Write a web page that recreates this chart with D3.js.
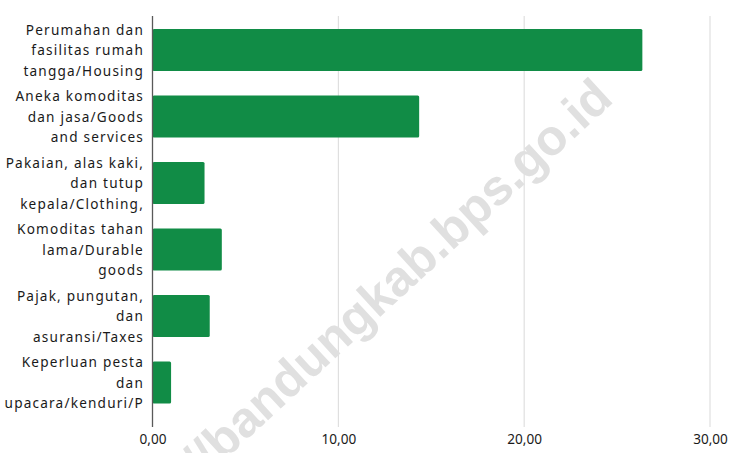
<!DOCTYPE html>
<html><head><meta charset="utf-8">
<script src="https://cdn.jsdelivr.net/npm/d3@7"></script>
<style>body{margin:0;background:#fff}</style>
</head><body>
<svg id="c" width="731" height="453"></svg>
<script>
const categories = [
  ["Perumahan dan","fasilitas rumah","tangga/Housing"],
  ["Aneka komoditas","dan jasa/Goods","and services"],
  ["Pakaian, alas kaki,","dan tutup","kepala/Clothing,"],
  ["Komoditas tahan","lama/Durable","goods"],
  ["Pajak, pungutan,","dan","asuransi/Taxes"],
  ["Keperluan pesta","dan","upacara/kenduri/P"]
];
const values = [26.36, 14.35, 2.8, 3.73, 3.08, 1.0];
const tickValues = [0, 10, 20, 30];
const watermark = "//bandungkab.bps.go.id";

const svg = d3.select("#c");
const x = d3.scaleLinear().domain([0, 30]).range([152.5, 710]);
const y = d3.scaleBand().domain(d3.range(categories.length)).range([16.8, 415.8]).paddingInner(0.37).paddingOuter(0.185);
const fmt = v => d3.format(".2f")(v).replace(".", ",");

// gridlines
svg.append("g").selectAll("line").data(tickValues.slice(1)).join("line")
  .attr("x1", d => x(d)).attr("x2", d => x(d)).attr("y1", 16).attr("y2", 427)
  .attr("stroke", "#d9d9d9").attr("stroke-width", 1);

// bars
svg.append("g").selectAll("rect").data(values).join("rect")
  .attr("x", x(0)).attr("y", (d, i) => y(i))
  .attr("width", d => x(d) - x(0)).attr("height", y.bandwidth())
  .attr("rx", 1.5).attr("fill", "#118c46");

// axis line
svg.append("line").attr("x1", x(0)).attr("x2", x(0)).attr("y1", 16).attr("y2", 427)
  .attr("stroke", "#595959").attr("stroke-width", 1.3);

// watermark
svg.append("text").text(watermark)
  .attr("transform", "translate(615,101) rotate(-42.6)")
  .attr("text-anchor", "end")
  .attr("font-family", "Liberation Sans, Arial, sans-serif")
  .attr("font-weight", "bold").attr("font-size", 50)
  .attr("fill", "#e0e0e0");

// category labels
const lab = svg.append("g").selectAll("text").data(categories).join("text")
  .attr("text-anchor", "end")
  .attr("font-family", "Noto Sans, sans-serif").attr("font-size", 13.6)
  .attr("letter-spacing", "1.2px")
  .attr("fill", "#1a1a1a");
lab.each(function(d, i) {
  const t = d3.select(this);
  const cy = y(i) + y.bandwidth() / 2;
  d.forEach((line, k) => {
    t.append("tspan").attr("x", 144).attr("y", cy + (k - 1) * 20.5 + 5).text(line);
  });
});

// x tick labels
const xAxis = d3.axisBottom(x).tickValues(tickValues).tickFormat(fmt).tickSize(0).tickPadding(0);
const ax = svg.append("g").attr("transform", "translate(0,434)").call(xAxis);
ax.select(".domain").remove();
ax.selectAll("text").attr("font-family", "Noto Sans, sans-serif").attr("font-size", 13.6)
  .attr("fill", "#1a1a1a").attr("dy", "0.71em");
</script>
</body></html>
